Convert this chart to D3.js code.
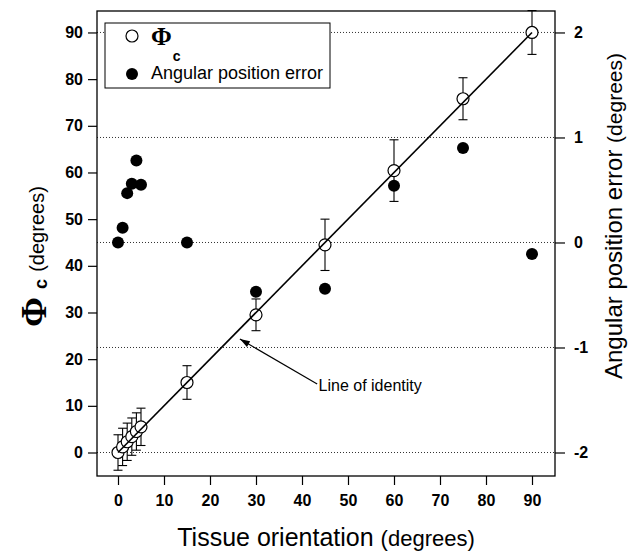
<!DOCTYPE html>
<html>
<head>
<meta charset="utf-8">
<script src="https://cdn.jsdelivr.net/npm/d3@7"></script>
<style>
  html, body { margin: 0; padding: 0; background: #fff; }
  svg { display: block; }
  text { font-family: "Liberation Sans", Arial, sans-serif; fill: #000; }
</style>
</head>
<body>
<svg id="chart" width="639" height="555"></svg>
<script>
// ---- data ----
const orientation = [0, 1, 2, 3, 4, 5, 15, 30, 45, 60, 75, 90];
const phiC = [0, 1.2, 2.3, 3.4, 4.5, 5.5, 15, 29.5, 44.5, 60.4, 75.8, 90];
const phiErr = [3.8, 4, 4, 4, 4, 4, 3.6, 3.4, 5.5, 6.6, 4.5, 4.7];
const angularError = [0, 0.14, 0.47, 0.56, 0.78, 0.55, 0, -0.47, -0.44, 0.54, 0.90, -0.11];
const xTicks = [0, 10, 20, 30, 40, 50, 60, 70, 80, 90];
const yLeftTicks = [0, 10, 20, 30, 40, 50, 60, 70, 80, 90];
const yRightTicks = [-2, -1, 0, 1, 2];
const identityLine = [[0, 0], [90, 90]];

const svg = d3.select("#chart");
const L = 97, R = 555, T = 11, B = 476;

const x = d3.scaleLinear().domain([-4.565, 95]).range([L, R]);
const yL = d3.scaleLinear().domain([-5.035, 94.6]).range([B, T]);
const yR = d3.scaleLinear().domain([-5.035 / 22.5 - 2, 94.6 / 22.5 - 2]).range([B, T]);

// gridlines (dotted) at right-axis ticks
svg.append("g").selectAll("line").data(yRightTicks).join("line")
  .attr("x1", L).attr("x2", R)
  .attr("y1", d => yR(d)).attr("y2", d => yR(d))
  .attr("stroke", "#333").attr("stroke-width", 1)
  .attr("stroke-dasharray", "1,2");

// frame
svg.append("rect").attr("x", L).attr("y", T).attr("width", R - L).attr("height", B - T)
  .attr("fill", "none").attr("stroke", "#000").attr("stroke-width", 1.3);

// axes
const tickFont = g => {
  g.select(".domain").remove();
  g.selectAll(".tick line").attr("stroke", "#000").attr("stroke-width", 1.2);
  g.selectAll(".tick text").attr("font-size", 16).attr("font-weight", "bold")
    .style("font-family", "'Liberation Sans', Arial, sans-serif");
};
svg.append("g").attr("transform", `translate(0,${B})`)
  .call(d3.axisBottom(x).tickValues(xTicks).tickSize(9).tickPadding(10).tickFormat(d => String(d)))
  .call(tickFont);
svg.append("g").attr("transform", `translate(${L},0)`)
  .call(d3.axisLeft(yL).tickValues(yLeftTicks).tickSize(9).tickPadding(5).tickFormat(d => String(d)))
  .call(tickFont);
svg.append("g").attr("transform", `translate(${R},0)`)
  .call(d3.axisRight(yR).tickValues(yRightTicks).tickSize(10).tickPadding(9).tickFormat(d => String(d)))
  .call(tickFont);

// error bars
const capW = 4.5;
const eb = svg.append("g").attr("stroke", "#000").attr("stroke-width", 1.1);
orientation.forEach((o, i) => {
  const cx = x(o), y1 = yL(phiC[i] - phiErr[i]), y2 = yL(phiC[i] + phiErr[i]);
  eb.append("line").attr("x1", cx).attr("x2", cx).attr("y1", y1).attr("y2", y2);
  eb.append("line").attr("x1", cx - capW).attr("x2", cx + capW).attr("y1", y1).attr("y2", y1);
  eb.append("line").attr("x1", cx - capW).attr("x2", cx + capW).attr("y1", y2).attr("y2", y2);
});

// open circles (Phi_c)
svg.append("g").selectAll("circle").data(orientation).join("circle")
  .attr("cx", d => x(d)).attr("cy", (d, i) => yL(phiC[i])).attr("r", 6)
  .attr("fill", "#fff").attr("stroke", "#000").attr("stroke-width", 1.2);

// identity line
svg.append("path").datum(identityLine)
  .attr("d", d3.line().x(d => x(d[0])).y(d => yL(d[1])))
  .attr("stroke", "#000").attr("stroke-width", 1.6).attr("fill", "none");

// filled circles (angular position error)
svg.append("g").selectAll("circle").data(orientation).join("circle")
  .attr("cx", d => x(d)).attr("cy", (d, i) => yR(angularError[i])).attr("r", 6)
  .attr("fill", "#000");

// annotation: Line of identity
const arrowFrom = [43.3, 14.7], arrowTo = [26.5, 24.3];
const ax1 = x(arrowFrom[0]), ay1 = yL(arrowFrom[1]), ax2 = x(arrowTo[0]), ay2 = yL(arrowTo[1]);
svg.append("line").attr("x1", ax1).attr("y1", ay1).attr("x2", ax2).attr("y2", ay2)
  .attr("stroke", "#000").attr("stroke-width", 1.2);
{
  const ang = Math.atan2(ay2 - ay1, ax2 - ax1), len = 10, w = 3.2;
  const bx = ax2 - len * Math.cos(ang), by = ay2 - len * Math.sin(ang);
  const px = -Math.sin(ang) * w, py = Math.cos(ang) * w;
  svg.append("path").attr("d", `M${ax2},${ay2}L${bx + px},${by + py}L${bx - px},${by - py}Z`).attr("fill", "#000");
}
svg.append("text").attr("x", x(43.6)).attr("y", yL(13.1)).attr("font-size", 16).text("Line of identity");

// legend
const lg = svg.append("g");
lg.append("rect").attr("x", 105).attr("y", 23).attr("width", 225).attr("height", 65)
  .attr("fill", "#fff").attr("stroke", "#000").attr("stroke-width", 1);
lg.append("circle").attr("cx", 132).attr("cy", 36).attr("r", 6).attr("fill", "#fff").attr("stroke", "#000").attr("stroke-width", 1.2);
lg.append("circle").attr("cx", 132).attr("cy", 74).attr("r", 6).attr("fill", "#000");
const lt = lg.append("text").attr("x", 151).attr("y", 45);
lt.append("tspan").attr("font-size", 25).attr("font-weight", "bold")
  .style("font-family", "'Liberation Serif', 'Times New Roman', serif").text("Φ");
lt.append("tspan").attr("font-size", 14).attr("font-weight", "bold").attr("dx", 1).attr("dy", 16).text("c");
lg.append("text").attr("x", 151).attr("y", 79).attr("font-size", 18).text("Angular position error");

// x title
const xt = svg.append("text").attr("x", (L + R) / 2).attr("y", 546).attr("text-anchor", "middle");
xt.append("tspan").attr("font-size", 25).text("Tissue orientation ");
xt.append("tspan").attr("font-size", 22).text("(degrees)");

// left title
svg.append("text").attr("transform", "translate(46,312) rotate(-90)").attr("text-anchor", "middle")
  .attr("font-size", 36).attr("font-weight", "bold")
  .style("font-family", "'Liberation Serif', 'Times New Roman', serif").text("Φ");
svg.append("text").attr("transform", "translate(47,284) rotate(-90)").attr("text-anchor", "middle")
  .attr("font-size", 18).attr("font-weight", "bold").text("c");
svg.append("text").attr("transform", "translate(44,229) rotate(-90)").attr("text-anchor", "middle")
  .attr("font-size", 20).text("(degrees)");

// right title
const rt = svg.append("text").attr("transform", "translate(622,216) rotate(-90)").attr("text-anchor", "middle");
rt.append("tspan").attr("font-size", 24).text("Angular position error ");
rt.append("tspan").attr("font-size", 21).text("(degrees)");
</script>
</body>
</html>
